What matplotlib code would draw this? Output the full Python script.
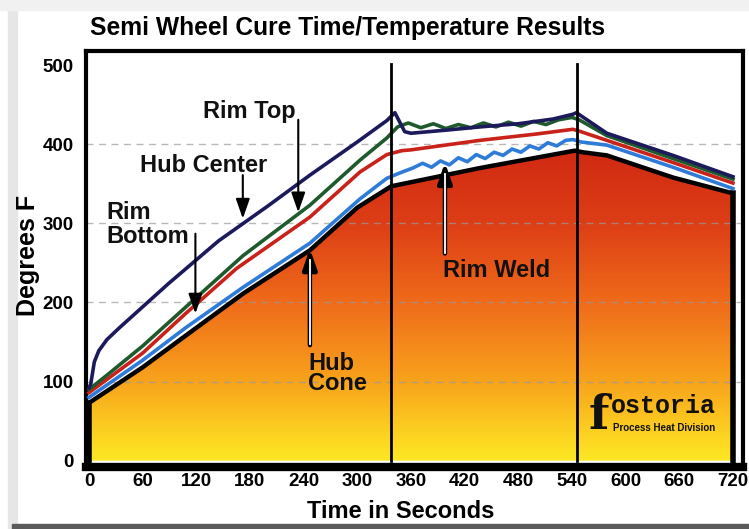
import numpy as np
import matplotlib.pyplot as plt
from matplotlib.colors import LinearSegmentedColormap
from matplotlib.patches import Polygon, Rectangle

# temperature traces (seconds, degrees F)
hub_center_t = [0, 2, 6, 11, 20, 34, 89, 145, 200, 247, 300, 333, 342, 353, 360, 400, 437, 480, 519, 541, 545, 579, 653, 720]
hub_center_v = [92, 97, 125, 139, 153, 168, 224, 278, 322, 361, 403, 430, 440, 416, 414, 418, 422, 426, 432, 438, 440, 414, 386, 359]

rim_top_t = [0, 20, 60, 108, 172, 247, 303, 333, 345, 357, 371, 385, 399, 413, 427, 441, 455, 469, 483, 497, 511, 525, 540, 548, 579, 653, 720]
rim_top_v = [90, 108, 145, 194, 259, 323, 380, 408, 422, 427, 421, 426, 420, 425, 421, 427, 422, 428, 423, 429, 425, 431, 434, 431, 411, 382, 356]

rim_bottom_t = [0, 60, 108, 165, 247, 303, 333, 350, 360, 437, 500, 541, 550, 579, 653, 720]
rim_bottom_v = [86, 136, 186, 243, 308, 365, 387, 392, 393, 405, 413, 419, 416, 405, 377, 351]

rim_weld_t = [0, 60, 108, 172, 247, 303, 333, 348, 362, 373, 383, 393, 403, 413, 423, 433, 443, 453, 463, 473, 483, 493, 503, 513, 523, 533, 541, 550, 579, 653, 720]
rim_weld_v = [80, 127, 168, 219, 275, 331, 357, 364, 370, 376, 371, 379, 374, 383, 378, 387, 382, 390, 386, 394, 390, 398, 394, 402, 398, 405, 406, 403, 399, 371, 344]

hub_cone_t = [0, 60, 108, 172, 247, 300, 338, 437, 543, 552, 579, 653, 720]
hub_cone_v = [73, 118, 158, 211, 266, 320, 347, 370, 392, 390, 386, 358, 338]

stage_marks = [338, 546]
x_ticks = [0, 60, 120, 180, 240, 300, 360, 420, 480, 540, 600, 660, 720]
y_ticks = [0, 100, 200, 300, 400, 500]
grid_levels = [100, 200, 300, 400]

# (label, text x, baseline of last line, line spacing, arrow x, arrow from, arrow to, hollow shaft)
labels = [
    ("Rim Top", 127, 433, 1.0, 234, 431, 314, False),
    ("Hub Center", 57, 365, 1.0, 172, 361, 306, False),
    ("Rim\nBottom", 19, 275, 1.05, 119, 287, 186, False),
    ("Hub\nCone", 245, 89, 0.87, 247, 146, 268, True),
    ("Rim Weld", 396, 232, 1.0, 398, 262, 377, True),
]

fig = plt.figure(figsize=(7.49, 5.29), dpi=100)
fig.patch.set_facecolor("white")
ax = fig.add_axes([0.1152, 0.1172, 0.8765, 0.7864])
ax.set_xlim(-3, 731)
ax.set_ylim(-8, 518)

# outer frame of the picture
fig.patches.append(Rectangle((8 / 749, 0), 9 / 749, 1, transform=fig.transFigure,
                             color="#e6e6e6", zorder=0))
fig.patches.append(Rectangle((0, 519 / 529), 1, 10 / 529, transform=fig.transFigure,
                             color="#f1f1f1", zorder=0))
fig.patches.append(Rectangle((12 / 749, 0), 1, 5 / 529, transform=fig.transFigure,
                             color="#5a5a5a", zorder=0))

# heated area under the hub cone trace
poly_pts = [(hub_cone_t[0], 0)] + list(zip(hub_cone_t, hub_cone_v)) + [(hub_cone_t[-1], 0)]
heat = LinearSegmentedColormap.from_list("heat", [
    (0.0, "#fde724"), (0.08, "#fcd321"), (0.25, "#f8a31c"),
    (0.5, "#ef6b1a"), (0.75, "#dd3e16"), (1.0, "#cf2812")])
grad = np.linspace(0, 1, 256).reshape(-1, 1)
img = ax.imshow(grad, cmap=heat, origin="lower", aspect="auto",
                extent=(0, 720, 0, 400), zorder=1)
clip = Polygon(poly_pts, closed=True, facecolor="none", edgecolor="none")
ax.add_patch(clip)
img.set_clip_path(clip)
ax.plot(hub_cone_t, hub_cone_v, color="black", lw=3.2, zorder=4, solid_capstyle="butt")
ax.plot([0, 0], [0, hub_cone_v[0]], color="black", lw=4, zorder=4)
ax.plot([720, 720], [0, hub_cone_v[-1]], color="black", lw=4, zorder=4)

for lv in grid_levels:
    ax.axhline(lv, color="#9a9a9a", lw=1, ls=(0, (5, 4)), alpha=0.7, zorder=2)

for t in stage_marks:
    ax.plot([t, t], [0, 502], color="black", lw=2, zorder=6)

ax.plot(rim_weld_t, rim_weld_v, color="#2f7bd8", lw=2.6, zorder=5)
ax.plot(rim_bottom_t, rim_bottom_v, color="#c9221a", lw=2.6, zorder=5)
ax.plot(rim_top_t, rim_top_v, color="#1f5a2c", lw=2.6, zorder=5)
ax.plot(hub_center_t, hub_center_v, color="#1c1a5c", lw=2.6, zorder=5)

for s, tx, base, lsp, axx, a0, a1, hollow in labels:
    ax.text(tx, base, s, ha="left", va="baseline", fontsize=17, linespacing=lsp,
            fontweight="bold", family="Liberation Sans", color="#111111", zorder=8)
    ax.annotate("", xy=(axx, a1), xytext=(axx, a0), zorder=7,
                arrowprops=dict(arrowstyle="-|>,head_width=0.35,head_length=1.0",
                                color="black", lw=3.2 if hollow else 1.5,
                                mutation_scale=12, shrinkA=0, shrinkB=0))
    if hollow:
        step = 14 if a1 > a0 else -14
        ax.plot([axx, axx], [a0 + 1 if a1 > a0 else a0 - 1, a1 - step],
                color="white", lw=1.3, zorder=7.5)

# company logo
ax.text(558, 40, "f", fontsize=34, fontweight="bold", family="DejaVu Serif",
        color="#111111", zorder=8)
ax.text(583, 60, "ostoria", fontsize=18, fontweight="bold", family="Liberation Mono",
        color="#111111", zorder=8)
ax.text(586, 38, "Process Heat Division", fontsize=7, fontweight="bold",
        family="Liberation Sans", color="#111111", zorder=8)

ax.set_xticks(x_ticks)
ax.set_yticks(y_ticks)
ax.tick_params(length=0, pad=4, labelsize=13.5)
for lab in ax.get_xticklabels() + ax.get_yticklabels():
    lab.set_fontweight("bold")
    lab.set_family("Liberation Sans")
ax.tick_params(axis="y", pad=9)
for side in ["left", "top", "right"]:
    ax.spines[side].set_linewidth(3)
ax.spines["bottom"].set_linewidth(6)

fig.text(90 / 749, 1 - 28 / 529, "Semi Wheel Cure Time/Temperature Results",
         fontsize=17.7, fontweight="bold", family="Liberation Sans", va="center", ha="left")
fig.text(401 / 749, 1 - 512 / 529, "Time in Seconds", fontsize=17, fontweight="bold",
         family="Liberation Sans", ha="center", va="center")
fig.text(28 / 749, 1 - 255 / 529, "Degrees F", fontsize=18, fontweight="bold",
         family="Liberation Sans", rotation=90, ha="center", va="center")

fig.savefig("out.png", dpi=100)
